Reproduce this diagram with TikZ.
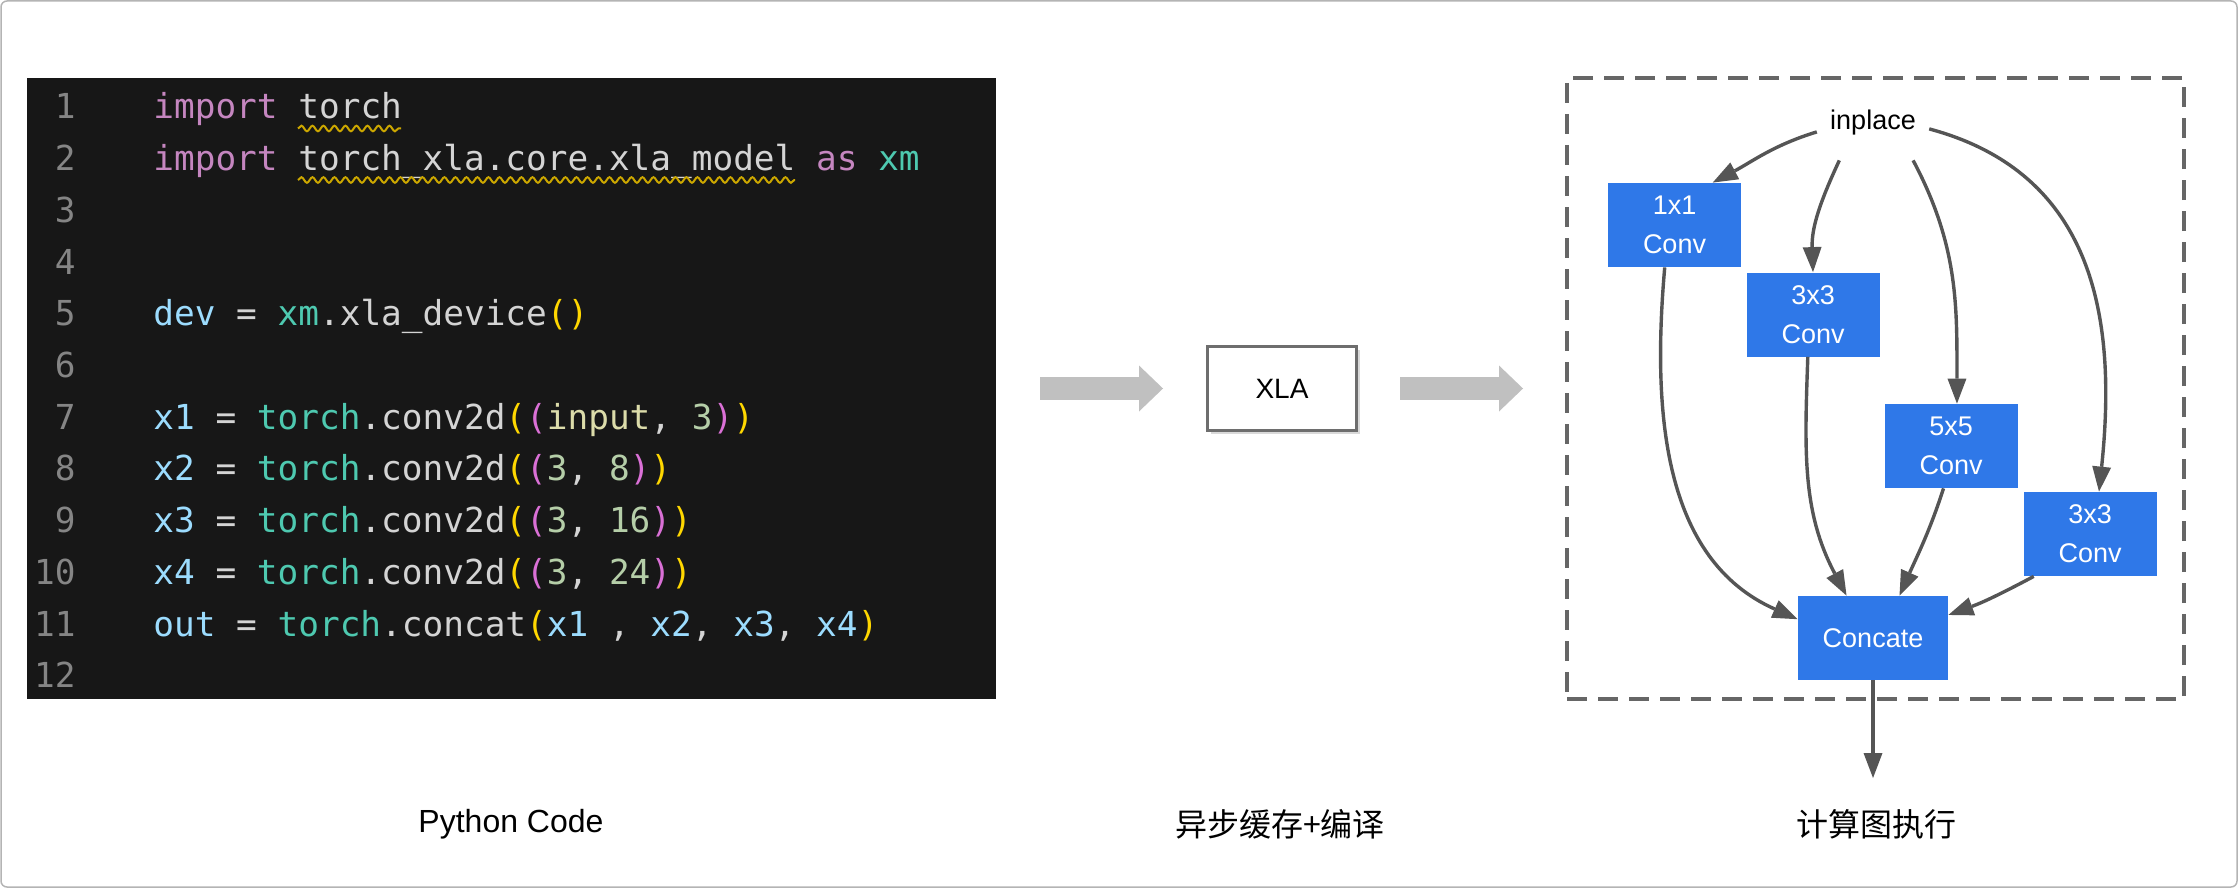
\documentclass[tikz,border=0pt]{standalone}
\usepackage{fontspec}
\setmainfont{Liberation Sans}
\newfontfamily\codefont{DejaVu Sans Mono}
\newfontfamily\cjkfont{Noto Sans CJK SC}
\usetikzlibrary{arrows.meta,shadows,decorations.pathmorphing}

\definecolor{codebg}{HTML}{171717}
\definecolor{codeplain}{HTML}{D4D4D4}
\definecolor{codekw}{HTML}{C586C0}
\definecolor{codemod}{HTML}{4EC9B0}
\definecolor{codevar}{HTML}{9CDCFE}
\definecolor{codenum}{HTML}{B5CEA8}
\definecolor{codearg}{HTML}{DCDCAA}
\definecolor{codebra}{HTML}{FFD700}
\definecolor{codebrb}{HTML}{DA70D6}
\definecolor{numgray}{HTML}{858585}
\definecolor{wavecol}{HTML}{CCA700}
\definecolor{convblue}{HTML}{2F78E8}
\definecolor{edgegray}{HTML}{555555}
\definecolor{fatgray}{HTML}{C0C0C0}
\definecolor{xlagray}{HTML}{6E6E6E}
\definecolor{dashgray}{HTML}{666666}
\definecolor{framegray}{HTML}{B4B4B4}

% code colouring
\newcommand{\ckw}[1]{\textcolor{codekw}{#1}}
\newcommand{\cmod}[1]{\textcolor{codemod}{#1}}
\newcommand{\cvar}[1]{\textcolor{codevar}{#1}}
\newcommand{\cnum}[1]{\textcolor{codenum}{#1}}
\newcommand{\carg}[1]{\textcolor{codearg}{#1}}
\newcommand{\cbra}[1]{\textcolor{codebra}{#1}}
\newcommand{\cbrb}[1]{\textcolor{codebrb}{#1}}

\tikzset{
    linenum/.style={anchor=base east, inner sep=0pt, text=numgray, font=\codefont\fontsize{17.2}{20}\selectfont},
    codeline/.style={anchor=base west, inner sep=0pt, text=codeplain, font=\codefont\fontsize{17.2}{20}\selectfont},
    conv/.style={fill=convblue, text=white, align=center, minimum width=66.5pt, minimum height=42pt, inner sep=0pt, font=\fontsize{13.5}{19.5}\selectfont},
    flow/.style={draw=edgegray, line width=1.7pt, -{Triangle[length=12.5pt,width=9.5pt,line width=0pt]}},
    fatarrow/.style={draw=fatgray, line width=11.5pt, -{Triangle[length=12pt,width=23pt,line width=0pt]}},
    wavy/.style={draw=wavecol, line width=1pt, decorate, decoration={snake, amplitude=1.4pt, segment length=5.5pt}},
    bottomlabel/.style={font=\fontsize{16}{19}\selectfont}
}

\begin{document}
\begin{tikzpicture}[x=0.5pt, y=-0.5pt]

    \useasboundingbox (0,0) rectangle (2238,888);
    \draw[framegray, line width=0.75pt, rounded corners=3pt] (1,1) rectangle (2237,887);

    % --- Python code panel on the left ---
    \node[fill=codebg, minimum width=484.5pt, minimum height=310.25pt, inner sep=0pt] (code) at (511.5,388.75) {};

    \foreach \n in {1,...,12}
        \node[linenum] (n\n) at (76,{119+51.7*(\n-1)}) {\n};

    \node[codeline] (l1) at (153,119) {\ckw{import} torch};
    \node[codeline] (l2) at (153,170.7) {\ckw{import} torch\_xla.core.xla\_model \ckw{as} \cmod{xm}};
    \node[codeline] (l5) at (153,325.8) {\cvar{dev} = \cmod{xm}.xla\_device\cbra{()}};
    \node[codeline] (l7) at (153,429.2) {\cvar{x1} = \cmod{torch}.conv2d\cbra{(}\cbrb{(}\carg{input}, \cnum{3}\cbrb{)}\cbra{)}};
    \node[codeline] (l8) at (153,480.9) {\cvar{x2} = \cmod{torch}.conv2d\cbra{(}\cbrb{(}\cnum{3}, \cnum{8}\cbrb{)}\cbra{)}};
    \node[codeline] (l9) at (153,532.6) {\cvar{x3} = \cmod{torch}.conv2d\cbra{(}\cbrb{(}\cnum{3}, \cnum{16}\cbrb{)}\cbra{)}};
    \node[codeline] (l10) at (153,584.3) {\cvar{x4} = \cmod{torch}.conv2d\cbra{(}\cbrb{(}\cnum{3}, \cnum{24}\cbrb{)}\cbra{)}};
    \node[codeline] (l11) at (153,636) {\cvar{out} = \cmod{torch}.concat\cbra{(}\cvar{x1} , \cvar{x2}, \cvar{x3}, \cvar{x4}\cbra{)}};

    % squiggly underlines under the imports
    \draw[wavy] (298,128.5) -- (401,128.5);
    \draw[wavy] (298,180) -- (795,180);

    % --- XLA in the middle ---
    \node[draw=xlagray, line width=1.5pt, fill=white, minimum width=74.5pt, minimum height=42pt,
          drop shadow={shadow xshift=1.5pt, shadow yshift=-1.5pt, opacity=0.3},
          font=\fontsize{14}{16}\selectfont] (xla) at (1282,388.5) {XLA};

    % --- compute graph on the right ---
    \node[draw=dashgray, line width=2pt, dash pattern=on 10pt off 5.5pt, minimum width=308.5pt, minimum height=310.5pt, inner sep=0pt] (graphbox) at (1875.5,388.5) {};

    \node[inner xsep=6.5pt, minimum height=37pt, font=\fontsize{13.5}{16}\selectfont] (inplace) at (1873,123) {inplace};

    \node[conv] (c11) at (1674.5,225) {1x1\\Conv};
    \node[conv] (c33a) at (1813,314.5) {3x3\\Conv};
    \node[conv] (c55) at (1951,446) {5x5\\Conv};
    \node[conv] (c33b) at (2090,534) {3x3\\Conv};
    \node[conv, minimum width=75pt] (concat) at (1873,638) {Concate};
    \coordinate (result) at (1873,778);

    % inplace fans out to the four convolutions
    \draw[flow] (inplace.189) to[out=197, in=28] (c11.48);
    \draw[flow] (inplace.228) to[out=245, in=92] (c33a.north);
    \draw[flow] (inplace.-43) to[out=-62, in=90] (c55.82);
    \draw[flow] (inplace.-6) to[out=-15, in=84, looseness=1.1] (c33b.78);

    % convolutions join in concat
    \draw[flow] (c11.257) to[out=265, in=156] (concat.166);
    \draw[flow] (c33a.-97) to[out=-92, in=118] (concat.122);
    \draw[flow] (c55.-100) to[out=-108, in=66] (concat.58);
    \draw[flow] (c33b.217) to[out=208, in=20] (concat.17);
    \draw[flow] (concat.south) -- (result);

    % --- fat grey arrows between the stages ---
    \draw[fatarrow] (code.east |- xla.west) ++(22pt,0) -- ([xshift=-21.5pt]xla.west);
    \draw[fatarrow] ([xshift=21pt]xla.east) -- ([xshift=-21pt]xla.east -| graphbox.west);

    % --- captions under each stage ---
    \node[bottomlabel] (capcode) at (511,824) {Python Code};
    \node[bottomlabel] (capxla) at (1280,824) {\cjkfont 异步缓存+编译};
    \node[bottomlabel] (capgraph) at (1876,824) {\cjkfont 计算图执行};

\end{tikzpicture}
\end{document}
